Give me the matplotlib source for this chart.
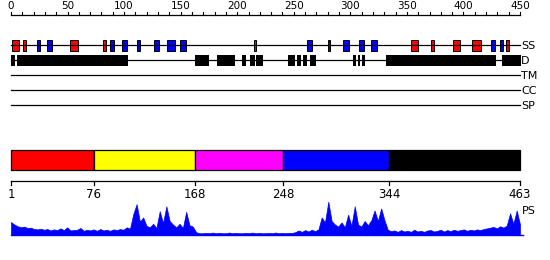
import numpy as np
import matplotlib.pyplot as plt
from matplotlib.patches import Rectangle

# secondary structure elements (start, end, type) on the 0-450 ruler
ss_start = [1, 11, 23, 32, 52.5, 81.6, 87.8, 98.4, 111.4, 126.7, 138.2, 149, 214.6,
            261.4, 280, 293.8, 308, 318, 353.7, 371.3, 390.5, 408, 424.4, 432.4, 437.7]
ss_end = [7.4, 13.5, 25.4, 36, 59, 83.7, 90.8, 102.3, 114, 131, 145, 155, 216.9,
          266.4, 282.3, 299, 312.4, 324, 360, 374, 397, 415.5, 428.2, 435.3, 440.3]
ss_type = ['H', 'H', 'E', 'E', 'H', 'H', 'E', 'E', 'E', 'E', 'E', 'E', 'H',
           'E', 'E', 'E', 'E', 'E', 'H', 'H', 'H', 'H', 'E', 'E', 'H']

# disordered regions
d_start = [0, 5.6, 162.7, 182, 204, 211.3, 216.4, 245, 252.6, 258.5, 264.4,
           302.4, 307, 310, 331.6, 434.4]
d_end = [3.3, 103.2, 175.3, 198.3, 207.8, 215.5, 222.5, 250.8, 256.1, 262, 269.4,
         304.8, 308.6, 312.7, 428.5, 450.5]

track_names = ['SS', 'D', 'TM', 'CC', 'SP']
ruler_ticks = list(range(0, 451, 10))
ruler_labels = [0, 50, 100, 150, 200, 250, 300, 350, 400, 450]

# domains
dom_bounds = [1, 76, 168, 248, 344, 463]
dom_colors = ['#ff0000', '#ffff00', '#ff00ff', '#0000ff', '#000000']

# PS profile, every 3 residues from 1 to 463
ps_vals = [0.37, 0.30, 0.25, 0.22, 0.24, 0.20, 0.21, 0.17, 0.16, 0.18,
           0.15, 0.17, 0.13, 0.16, 0.14, 0.19, 0.14, 0.22, 0.13, 0.14,
           0.15, 0.20, 0.12, 0.15, 0.13, 0.16, 0.12, 0.17, 0.13, 0.15,
           0.12, 0.16, 0.14, 0.17, 0.15, 0.22, 0.18, 0.60, 0.88, 0.38,
           0.50, 0.26, 0.22, 0.32, 0.20, 0.68, 0.34, 0.82, 0.40, 0.30,
           0.22, 0.32, 0.20, 0.66, 0.28, 0.24, 0.08, 0.05, 0.05, 0.06,
           0.05, 0.07, 0.05, 0.06, 0.05, 0.05, 0.07, 0.05, 0.06, 0.05,
           0.05, 0.06, 0.05, 0.07, 0.05, 0.06, 0.05, 0.05, 0.06, 0.05,
           0.07, 0.05, 0.06, 0.05, 0.06, 0.06, 0.08, 0.13, 0.09, 0.14,
           0.10, 0.15, 0.11, 0.16, 0.50, 0.36, 0.95, 0.40, 0.30, 0.24,
           0.36, 0.22, 0.58, 0.26, 0.82, 0.30, 0.24, 0.40, 0.28, 0.42,
           0.70, 0.40, 0.76, 0.42, 0.15, 0.11, 0.13, 0.09, 0.14, 0.10,
           0.12, 0.09, 0.15, 0.10, 0.12, 0.09, 0.13, 0.14, 0.10, 0.12,
           0.15, 0.10, 0.14, 0.11, 0.15, 0.12, 0.14, 0.16, 0.12, 0.15,
           0.13, 0.16, 0.14, 0.17, 0.19, 0.21, 0.23, 0.19, 0.25, 0.21,
           0.27, 0.62, 0.32, 0.70, 0.30]
ps_pos = np.arange(1, 464, 3)

W, H = 550, 260
fig = plt.figure(figsize=(W / 100, H / 100), dpi=100)
fs = 7.5

# top tracks, y in pixels
ax = fig.add_axes([11 / W, 0, 509 / W, 1])
ax.set_xlim(0, 450)
ax.set_ylim(H, 0)
ax.axis('off')

ax.plot([0, 450], [15, 15], color='black', lw=0.9, clip_on=False)
for t in ruler_ticks:
    ax.plot([t, t], [12, 15], color='black', lw=0.8, clip_on=False)
for t in ruler_labels:
    ax.text(t, 11, str(t), ha='center', va='bottom', fontsize=fs)

for i, name in enumerate(track_names):
    y = 45 + 15 * i
    ax.plot([0, 450], [y, y], color='black', lw=0.9, clip_on=False)
    ax.text(451, y + 1, name, ha='left', va='center', fontsize=fs + 0.5)

for s, e, t in zip(ss_start, ss_end, ss_type):
    c = '#ff0000' if t == 'H' else '#0000ff'
    ax.add_patch(Rectangle((s, 40), e - s, 10.5, facecolor=c, edgecolor='black',
                           lw=0.7, clip_on=False))
for s, e in zip(d_start, d_end):
    ax.add_patch(Rectangle((s, 55), e - s, 11, facecolor='black', edgecolor='none',
                           clip_on=False))

# domain bar and axis
ax2 = fig.add_axes([11 / W, 0, 509 / W, 1])
ax2.set_xlim(1, 463)
ax2.set_ylim(H, 0)
ax2.axis('off')
for k in range(len(dom_colors)):
    ax2.add_patch(Rectangle((dom_bounds[k], 150), dom_bounds[k + 1] - dom_bounds[k], 20,
                            facecolor=dom_colors[k], edgecolor='black', lw=0.9,
                            clip_on=False))
ax2.plot([1, 463], [180.5, 180.5], color='black', lw=0.9, clip_on=False)
for b in dom_bounds:
    ax2.plot([b, b], [180.5, 185], color='black', lw=0.9, clip_on=False)
    ax2.text(b, 195, str(b), ha='center', va='center', fontsize=fs + 1)

# PS profile
ax3 = fig.add_axes([11 / W, 25 / H, 509 / W, 35 / H])
ax3.set_xlim(1, 463)
ax3.set_ylim(0, 1)
ax3.axis('off')
ax3.fill_between(ps_pos, 0, ps_vals, color='#0000ff', lw=0.5, clip_on=False)
ax3.plot([1, 466], [0, 0], color='#0000ff', lw=1, clip_on=False)
ax3.text(465, 0.7, 'PS', ha='left', va='center', fontsize=fs + 0.5)

fig.savefig('out.png', dpi=100)
